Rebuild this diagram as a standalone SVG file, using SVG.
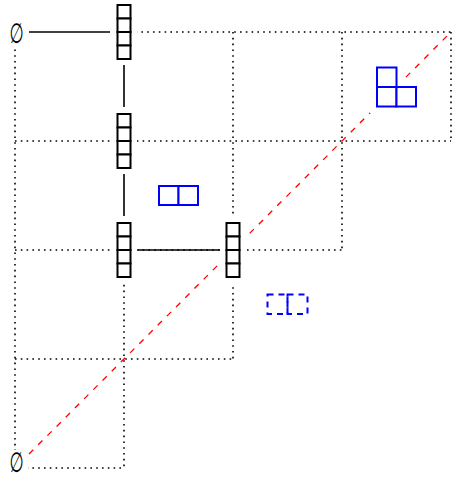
<svg xmlns="http://www.w3.org/2000/svg" width="453" height="479" viewBox="0 0 453 479">
<style>
.dot{stroke:#000;stroke-width:1.6;stroke-dasharray:1.6 4.2;fill:none}
.edge{stroke:#000;stroke-width:1.6;fill:none}
.diag{stroke:#ff0000;stroke-width:1.3;stroke-dasharray:6 7;fill:none}
.pad{fill:#fff;stroke:none}
.cell{fill:#fff;stroke:#000;stroke-width:2}
.bcell{fill:#fff;stroke:#0000ff;stroke-width:2}
.dcell{fill:none;stroke:#0000ff;stroke-width:2;stroke-dasharray:6 5}
.empty{font-family:"DejaVu Sans",sans-serif;font-size:28px;fill:#000}
</style>
<defs>
<g id="stack">
<rect class="pad" x="-13" y="-33" width="26" height="66"/>
<rect class="cell" x="-6.5" y="-27" width="13" height="13.5"/>
<rect class="cell" x="-6.5" y="-13.5" width="13" height="13.5"/>
<rect class="cell" x="-6.5" y="0" width="13" height="13.5"/>
<rect class="cell" x="-6.5" y="13.5" width="13" height="13.5"/>
</g>
</defs>
<rect width="453" height="479" fill="#fff"/>
<g id="grid">
<line class="dot" x1="124" y1="32" x2="451" y2="32"/>
<line class="dot" x1="15" y1="141" x2="451" y2="141"/>
<line class="dot" x1="15" y1="250" x2="342" y2="250"/>
<line class="dot" x1="15" y1="359" x2="233" y2="359"/>
<line class="dot" x1="15" y1="468" x2="124" y2="468"/>
<line class="dot" x1="15" y1="32" x2="15" y2="468"/>
<line class="dot" x1="124" y1="250" x2="124" y2="468"/>
<line class="dot" x1="233" y1="32" x2="233" y2="359"/>
<line class="dot" x1="342" y1="32" x2="342" y2="250"/>
<line class="dot" x1="451" y1="32" x2="451" y2="141"/>
</g>
<g id="diagonal">
<line class="diag" x1="29" y1="454" x2="451" y2="32"/>
</g>
<g id="connectors">
<line class="edge" x1="29" y1="32" x2="110" y2="32"/>
<line class="edge" x1="124" y1="65" x2="124" y2="107"/>
<line class="edge" x1="124" y1="174" x2="124" y2="216"/>
<line class="edge" x1="138" y1="250" x2="220" y2="250"/>
</g>
<g id="empty-top">
<rect class="pad" x="5" y="19" width="23" height="30"/>
<text class="empty" text-anchor="middle" transform="translate(16.5,43) scale(0.58,1)">∅</text>
</g>
<g id="empty-bottom">
<rect class="pad" x="5" y="450" width="23" height="29"/>
<text class="empty" text-anchor="middle" transform="translate(16.5,472) scale(0.58,1)">∅</text>
</g>
<g id="stack1"><use href="#stack" x="124" y="32"/></g>
<g id="stack2"><use href="#stack" x="124" y="141"/></g>
<g id="stack3"><use href="#stack" x="124" y="250"/></g>
<g id="stack4"><use href="#stack" x="233" y="250"/></g>
<g id="domino">
<rect class="bcell" x="159" y="186" width="19.5" height="19"/>
<rect class="bcell" x="178.5" y="186" width="19.5" height="19"/>
</g>
<g id="tromino">
<rect class="pad" x="370" y="60" width="34" height="27"/>
<rect class="pad" x="370" y="80" width="53" height="33"/>
<rect class="bcell" x="377" y="67.5" width="19.5" height="19.5"/>
<rect class="bcell" x="377" y="87" width="19.5" height="19.5"/>
<rect class="bcell" x="396.5" y="87" width="19.5" height="19.5"/>
</g>
<g id="dashed-domino">
<rect class="dcell" x="267.5" y="294.5" width="20" height="19.5"/>
<rect class="dcell" x="287.5" y="294.5" width="20" height="19.5"/>
</g>
</svg>
